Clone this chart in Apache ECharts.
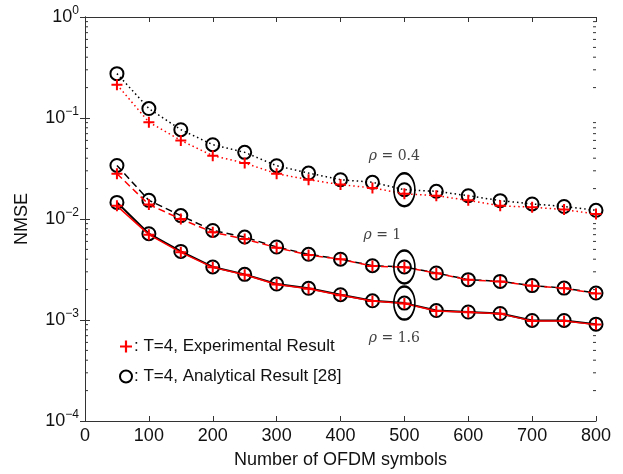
<!DOCTYPE html>
<html>
<head>
<meta charset="utf-8">
<script src="https://cdn.jsdelivr.net/npm/echarts@6/dist/echarts.min.js"></script>
<style>
  html, body { margin: 0; padding: 0; background: #fff; }
  #chart { width: 623px; height: 474px; }
</style>
</head>
<body>
<div id="chart"></div>
<script>
// --- data ---
const symbols = [50, 100, 150, 200, 250, 300, 350, 400, 450, 500, 550, 600, 650, 700, 750, 800];

// rho = 0.4 (dotted)
const exp04 = [0.214, 0.091, 0.060, 0.0423, 0.0358, 0.0281, 0.0245, 0.0219, 0.0203, 0.0178, 0.0170, 0.0153, 0.0135, 0.0131, 0.0124, 0.0112];
const ana04 = [0.275, 0.124, 0.0766, 0.0544, 0.0457, 0.0337, 0.0285, 0.0245, 0.0231, 0.0195, 0.0188, 0.0170, 0.0152, 0.0141, 0.0133, 0.0122];
// rho = 1 (dashed)
const exp1 = [0.0281, 0.0139, 0.0100, 0.0074, 0.00634, 0.0052, 0.0044, 0.0040, 0.00342, 0.00333, 0.0029, 0.0025, 0.0024, 0.00218, 0.00206, 0.00183];
const ana1 = [0.0339, 0.0153, 0.0108, 0.0077, 0.00663, 0.00528, 0.00447, 0.0040, 0.00345, 0.00335, 0.00292, 0.00251, 0.00241, 0.00219, 0.00207, 0.00185];
// rho = 1.6 (solid)
const exp16 = [0.0135, 0.0070, 0.00468, 0.00332, 0.0028, 0.00225, 0.00204, 0.00176, 0.00154, 0.00146, 0.00123, 0.00119, 0.00115, 0.00098, 0.00098, 0.00090];
const ana16 = [0.0146, 0.00715, 0.00478, 0.00335, 0.00283, 0.00227, 0.00206, 0.00178, 0.00155, 0.00147, 0.00124, 0.00120, 0.00116, 0.00099, 0.00099, 0.00091];

const rhoLabels = ['ρ', 'ρ', 'ρ'];
const rhoValues = ['0.4', '1', '1.6'];
const markAt = 500; // the ellipses sit on this x value

const expName = ': T=4, Experimental Result';
const anaName = ': T=4, Analytical Result [28]';

// minor ticks of the log axis (2..9 in every decade)
const minorVals = [];
for (let e = -4; e < 0; e++) {
  for (let m = 2; m <= 9; m++) minorVals.push(m * Math.pow(10, e));
}

const PLUS = 'path://M4.5,0H6.5V4.5H11V6.5H6.5V11H4.5V6.5H0V4.5H4.5Z';
const AXIS_COLOR = '#333';
const FONT = 'Liberation Sans, Arial, sans-serif';

const chart = echarts.init(document.getElementById('chart'), null, { renderer: 'canvas' });

const pair = (xs, ys) => xs.map((x, i) => [x, ys[i]]);

function anaSeries(vals, lineType, width) {
  return {
    name: anaName,
    type: 'line',
    data: pair(symbols, vals),
    symbol: 'circle',
    symbolSize: 13,
    itemStyle: { color: 'rgba(0,0,0,0)', borderColor: '#000', borderWidth: 2 },
    lineStyle: { color: '#000', width: width, type: lineType },
    z: 3
  };
}

function expSeries(vals, lineType, width) {
  return {
    name: expName,
    type: 'line',
    data: pair(symbols, vals),
    symbol: PLUS,
    symbolSize: 11,
    itemStyle: { color: '#ff0000', borderWidth: 0 },
    lineStyle: { color: '#ff0000', width: width, type: lineType },
    z: 4
  };
}

const idx = symbols.indexOf(markAt);
const ellipseData = [ana04[idx], ana1[idx], ana16[idx]].map((v, i) => ({
  value: [markAt, v],
  label: {
    position: i === 2 ? 'bottom' : 'top',
    offset: i === 1 ? [-22, -2] : [-10, i === 2 ? 6 : -4],
    formatter: '{i|' + rhoLabels[i] + '}{n| = ' + rhoValues[i] + '}'
  }
}));

const option = {
  backgroundColor: '#fff',
  animation: false,
  grid: { left: 85, right: 27, top: 17, bottom: 53 },
  legend: {
    orient: 'vertical',
    left: 114,
    top: 333,
    itemGap: 13,
    itemWidth: 12,
    itemHeight: 12,
    textStyle: { fontFamily: FONT, fontSize: 17, color: '#111', padding: [0, 0, 0, -3] },
    data: [
      { name: expName, icon: PLUS, itemStyle: { color: '#ff0000', borderWidth: 0 } },
      { name: anaName, icon: 'circle', itemStyle: { color: 'rgba(0,0,0,0)', borderColor: '#000', borderWidth: 2 } }
    ]
  },
  xAxis: [
    {
      type: 'value', min: 0, max: 800, interval: 100,
      name: 'Number of OFDM symbols', nameLocation: 'middle', nameGap: 30,
      nameTextStyle: { fontFamily: FONT, fontSize: 18, color: '#111' },
      axisLine: { show: true, lineStyle: { color: AXIS_COLOR, width: 1 } },
      axisTick: { show: true, inside: true, length: 5, lineStyle: { color: AXIS_COLOR } },
      axisLabel: { fontFamily: FONT, fontSize: 18, color: '#111', margin: 6 },
      splitLine: { show: false }
    },
    {
      type: 'value', min: 0, max: 800, interval: 100, position: 'top',
      axisLine: { show: true, lineStyle: { color: AXIS_COLOR, width: 1 } },
      axisTick: { show: true, inside: true, length: 5, lineStyle: { color: AXIS_COLOR } },
      axisLabel: { show: false },
      splitLine: { show: false }
    }
  ],
  yAxis: [
    {
      type: 'log', logBase: 10, min: 1e-4, max: 1,
      name: 'NMSE', nameLocation: 'middle', nameGap: 54,
      nameTextStyle: { fontFamily: FONT, fontSize: 18, color: '#111' },
      axisLine: { show: true, lineStyle: { color: AXIS_COLOR, width: 1 } },
      axisTick: { show: true, inside: true, length: 5, lineStyle: { color: AXIS_COLOR } },
      splitLine: { show: false },
      axisLabel: {
        margin: 6,
        formatter: v => '{b|10}{s|' + String(Math.round(Math.log10(v))).replace('-', '−') + '}',
        rich: {
          b: { fontFamily: FONT, fontSize: 18, color: '#111' },
          s: { fontFamily: FONT, fontSize: 12, color: '#111', padding: [0, 0, 12, 0] }
        }
      }
    },
    {
      type: 'log', logBase: 10, min: 1e-4, max: 1, position: 'right',
      axisLine: { show: true, lineStyle: { color: AXIS_COLOR, width: 1 } },
      axisTick: { show: true, inside: true, length: 5, lineStyle: { color: AXIS_COLOR } },
      axisLabel: { show: false },
      splitLine: { show: false }
    }
  ],
  series: [
    anaSeries(ana04, [1.5, 3], 1.5),
    expSeries(exp04, [1.5, 3], 1.5),
    anaSeries(ana1, [7, 4], 1.5),
    expSeries(exp1, [7, 4], 1.5),
    anaSeries(ana16, 'solid', 2),
    expSeries(exp16, 'solid', 1.5),
    {
      type: 'scatter',
      data: ellipseData,
      symbol: 'circle',
      symbolSize: [21, 33],
      itemStyle: { color: 'rgba(0,0,0,0)', borderColor: '#000', borderWidth: 2, opacity: 1 },
      silent: true,
      z: 5,
      label: {
        show: true,
        rich: {
          i: { fontFamily: 'DejaVu Serif, serif', fontStyle: 'italic', fontSize: 14, color: '#444' },
          n: { fontFamily: 'DejaVu Serif, serif', fontSize: 14, color: '#444' }
        }
      }
    },
    {
      // minor ticks on left and right of the log axis
      type: 'custom',
      silent: true,
      clip: false,
      data: minorVals.map(v => [0, v]),
      renderItem: (params, api) => {
        const y = api.coord([0, api.value(1)])[1];
        const cs = params.coordSys;
        const style = { stroke: AXIS_COLOR, lineWidth: 1 };
        return {
          type: 'group',
          children: [
            { type: 'line', shape: { x1: cs.x, y1: y, x2: cs.x + 3, y2: y }, style },
            { type: 'line', shape: { x1: cs.x + cs.width, y1: y, x2: cs.x + cs.width - 3, y2: y }, style }
          ]
        };
      },
      z: 1
    }
  ]
};

chart.setOption(option);
</script>
</body>
</html>
